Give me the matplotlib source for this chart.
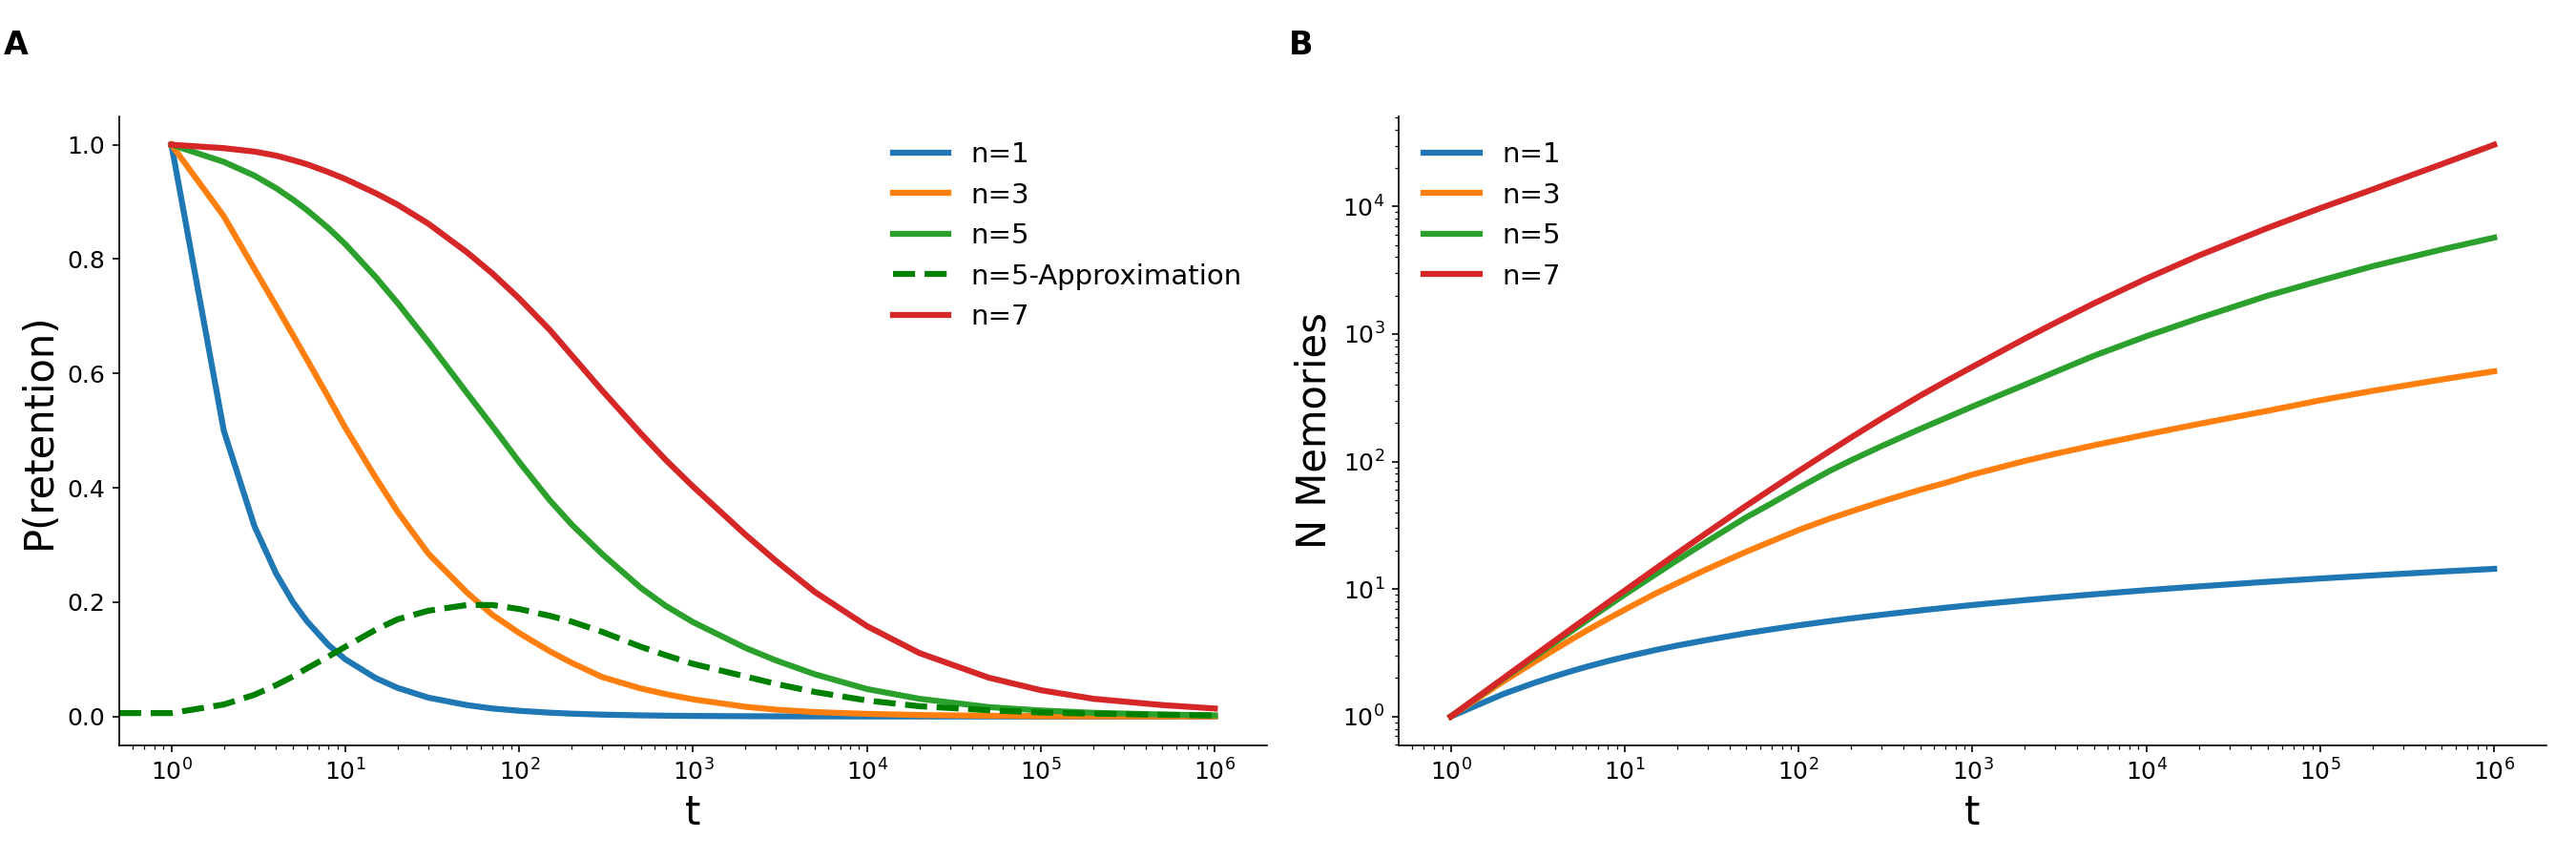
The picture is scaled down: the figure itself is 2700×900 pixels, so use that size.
import numpy as np
import matplotlib
matplotlib.use('Agg')
import matplotlib.pyplot as plt

# time points
t = [1, 2, 3, 4, 5, 6, 8, 10, 15, 20, 30, 50, 70, 100, 150, 200, 300, 500, 700,
     1e3, 2e3, 3e3, 5e3, 1e4, 2e4, 5e4, 1e5, 2e5, 5e5, 1e6]

# panel A: retention probability
p_n1 = [1.0, 0.5, 0.333, 0.25, 0.2, 0.167, 0.125, 0.1, 0.067, 0.05, 0.033, 0.02, 0.014,
        0.01, 0.0067, 0.005, 0.0033, 0.002, 0.0014, 0.001, 0.0005, 0.00033, 0.0002,
        0.0001, 0.00005, 0.00002, 0.00001, 0.000005, 0.000002, 0.000001]
p_n3 = [1.0, 0.875, 0.783, 0.718, 0.667, 0.625, 0.558, 0.505, 0.417, 0.358, 0.285, 0.217,
        0.178, 0.146, 0.114, 0.094, 0.069, 0.049, 0.039, 0.030, 0.017, 0.012, 0.0078,
        0.0046, 0.0026, 0.00124, 0.0007, 0.00039, 0.00018, 0.0001]
p_n5 = [1.0, 0.970, 0.946, 0.924, 0.904, 0.886, 0.854, 0.826, 0.768, 0.723, 0.655, 0.566,
        0.508, 0.445, 0.378, 0.336, 0.284, 0.225, 0.193, 0.165, 0.120, 0.098, 0.074,
        0.048, 0.031, 0.0165, 0.0105, 0.0065, 0.0035, 0.002]
p_n7 = [1.0, 0.994, 0.988, 0.981, 0.973, 0.966, 0.952, 0.940, 0.915, 0.895, 0.862, 0.812,
        0.775, 0.731, 0.676, 0.632, 0.570, 0.495, 0.448, 0.402, 0.318, 0.272, 0.218,
        0.158, 0.111, 0.068, 0.046, 0.031, 0.020, 0.014]

t_approx = [0.5] + t
p_n5_approx = [0.006, 0.006, 0.021, 0.038, 0.055, 0.070, 0.084, 0.105, 0.122, 0.152, 0.170,
               0.185, 0.195, 0.195, 0.188, 0.176, 0.166, 0.148, 0.122, 0.107, 0.092,
               0.070, 0.057, 0.043, 0.028, 0.018, 0.011, 0.007, 0.005, 0.003, 0.002]

# panel B: number of memories
m_n1 = [1.0, 1.5, 1.83, 2.08, 2.28, 2.45, 2.72, 2.93, 3.32, 3.60, 3.99, 4.50, 4.83, 5.19,
        5.59, 5.88, 6.28, 6.79, 7.13, 7.49, 8.18, 8.58, 9.09, 9.79, 10.48, 11.40, 12.09,
        12.78, 13.70, 14.39]
m_n3 = [1.0, 1.88, 2.66, 3.38, 4.06, 4.69, 5.84, 6.88, 9.2, 11.1, 14.4, 19.6, 23.7, 29,
        35.5, 40.5, 48.5, 60, 68, 79, 101, 115, 134, 163, 197, 250, 302, 358, 440, 510]
m_n5 = [1.0, 1.97, 2.91, 3.83, 4.73, 5.62, 7.36, 9.05, 13.0, 16.8, 23.8, 36.5, 47, 62,
        84, 102, 132, 180, 219, 270, 400, 505, 675, 960, 1330, 2000, 2620, 3400, 4600, 5700]
m_n7 = [1.0, 1.99, 2.98, 3.96, 4.94, 5.90, 7.82, 9.71, 14.4, 19.0, 27.9, 45, 61, 84,
        120, 154, 217, 328, 424, 553, 920, 1225, 1740, 2720, 4120, 6800, 9700, 13600,
        21500, 30500]

lw = 3
fig, (ax1, ax2) = plt.subplots(1, 2, figsize=(18, 6))
plt.subplots_adjust(left=0.0463, right=0.9885, bottom=0.1326, top=0.8648, wspace=0.1147)

ax1.plot(t, p_n1, color='C0', lw=lw, label='n=1')
ax1.plot(t, p_n3, color='C1', lw=lw, label='n=3')
ax1.plot(t, p_n5, color='C2', lw=lw, label='n=5')
ax1.plot(t_approx, p_n5_approx, '--', color='green', lw=lw, label='n=5-Approximation')
ax1.plot(t, p_n7, color='C3', lw=lw, label='n=7')
ax1.set_xscale('log')
ax1.set_xlim(10**-0.3, 10**6.3)
ax1.set_xlabel('t', fontsize=20)
ax1.set_ylabel('P(retention)', fontsize=20)
ax1.legend(loc='upper right', frameon=False, fontsize=14)

ax2.plot(t, m_n1, color='C0', lw=lw, label='n=1')
ax2.plot(t, m_n3, color='C1', lw=lw, label='n=3')
ax2.plot(t, m_n5, color='C2', lw=lw, label='n=5')
ax2.plot(t, m_n7, color='C3', lw=lw, label='n=7')
ax2.set_xscale('log')
ax2.set_yscale('log')
ax2.set_xlim(10**-0.3, 10**6.3)
ax2.set_xlabel('t', fontsize=20)
ax2.set_ylabel('N Memories', fontsize=20)
ax2.legend(loc='upper left', frameon=False, fontsize=14)

for ax in (ax1, ax2):
    ax.spines['top'].set_visible(False)
    ax.spines['right'].set_visible(False)
    ax.tick_params(labelsize=12)

fig.text(0.0015, 0.937, 'A', fontsize=16, fontweight='bold')
fig.text(0.5005, 0.937, 'B', fontsize=16, fontweight='bold')

plt.savefig('out.png', dpi=150)
